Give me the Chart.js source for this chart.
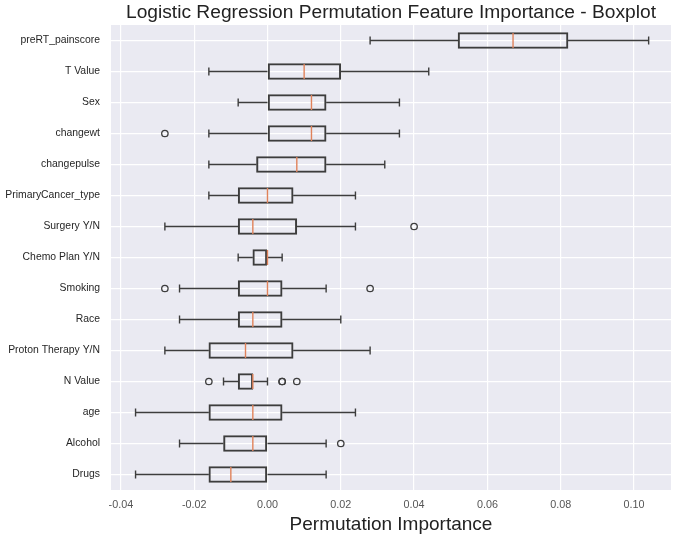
<!DOCTYPE html>
<html>
<head>
<meta charset="utf-8">
<script src="https://cdn.jsdelivr.net/npm/chart.js@4.4.1/dist/chart.umd.min.js"></script>
<style>
  html, body { margin: 0; padding: 0; background: #ffffff; }
  canvas { display: block; }
</style>
</head>
<body>
<canvas id="c" width="677" height="537"></canvas>
<script>
// ---- data ----
const categories = ['preRT_painscore','T Value','Sex','changewt','changepulse','PrimaryCancer_type','Surgery Y/N','Chemo Plan Y/N','Smoking','Race','Proton Therapy Y/N','N Value','age','Alcohol','Drugs'];
const whiskerLow  = [0.028, -0.016, -0.008, -0.016, -0.016, -0.016, -0.028, -0.008, -0.024, -0.024, -0.028, -0.012, -0.036, -0.024, -0.036];
const q1          = [0.052,  0.000,  0.000,  0.000, -0.003, -0.008, -0.008, -0.004, -0.008, -0.008, -0.016, -0.008, -0.016, -0.012, -0.016];
const medians     = [0.067,  0.010,  0.012,  0.012,  0.008,  0.000, -0.004,  0.000,  0.000, -0.004, -0.006, -0.004, -0.004, -0.004, -0.010];
const q3          = [0.082,  0.020,  0.016,  0.016,  0.016,  0.007,  0.008,  0.000,  0.004,  0.004,  0.007, -0.004,  0.004,  0.000,  0.000];
const whiskerHigh = [0.104,  0.044,  0.036,  0.036,  0.032,  0.024,  0.024,  0.004,  0.016,  0.020,  0.028,  0.000,  0.024,  0.016,  0.016];
const outlierCategory = ['changewt','Surgery Y/N','Smoking','Smoking','N Value','N Value','N Value','N Value','Alcohol'];
const outlierValue    = [-0.028,    0.040,        -0.028,    0.028,    -0.016,   0.004,    0.004,    0.008,    0.020];
const xTicks = [-0.04, -0.02, 0.00, 0.02, 0.04, 0.06, 0.08, 0.10];
const xTickLabels = ['-0.04', '-0.02', '0.00', '0.02', '0.04', '0.06', '0.08', '0.10'];
const titleText = 'Logistic Regression Permutation Feature Importance - Boxplot';
const xTitleText = 'Permutation Importance';

const FONT = "'Liberation Sans', Arial, sans-serif";
const BOX_COLOR = '#3d3d3d';
const MEDIAN_COLOR = '#e0825a';

const bgPlugin = {
  id: 'bg',
  beforeDraw(chart) {
    const a = chart.chartArea, ctx = chart.ctx;
    ctx.save();
    ctx.fillStyle = '#eaeaf2';
    ctx.fillRect(a.left, a.top, a.right - a.left, a.bottom - a.top);
    ctx.restore();
  }
};

const boxPlugin = {
  id: 'boxparts',
  afterDatasetsDraw(chart) {
    const ctx = chart.ctx, xs = chart.scales.x, ys = chart.scales.y;
    ctx.save();
    ctx.lineWidth = 1.4;
    ctx.strokeStyle = BOX_COLOR;
    const cap = 4;
    categories.forEach((c, i) => {
      const y = ys.getPixelForValue(i);
      const xl = xs.getPixelForValue(whiskerLow[i]);
      const x1 = xs.getPixelForValue(q1[i]);
      const x3 = xs.getPixelForValue(q3[i]);
      const xh = xs.getPixelForValue(whiskerHigh[i]);
      ctx.beginPath();
      ctx.moveTo(xl, y); ctx.lineTo(x1, y);
      ctx.moveTo(x3, y); ctx.lineTo(xh, y);
      ctx.moveTo(xl, y - cap); ctx.lineTo(xl, y + cap);
      ctx.moveTo(xh, y - cap); ctx.lineTo(xh, y + cap);
      ctx.stroke();
    });
    ctx.strokeStyle = MEDIAN_COLOR;
    ctx.lineWidth = 1.4;
    categories.forEach((c, i) => {
      const y = ys.getPixelForValue(i);
      const xm = xs.getPixelForValue(medians[i]);
      ctx.beginPath();
      ctx.moveTo(xm, y - 7.5); ctx.lineTo(xm, y + 7.5);
      ctx.stroke();
    });
    ctx.strokeStyle = BOX_COLOR;
    ctx.lineWidth = 1.3;
    outlierValue.forEach((v, k) => {
      const y = ys.getPixelForValue(categories.indexOf(outlierCategory[k]));
      const x = xs.getPixelForValue(v);
      ctx.beginPath();
      ctx.arc(x, y, 3.2, 0, Math.PI * 2);
      ctx.stroke();
    });
    ctx.restore();
  }
};

new Chart(document.getElementById('c'), {
  type: 'bar',
  data: {
    labels: categories,
    datasets: [{
      label: 'IQR',
      data: categories.map((c, i) => [q1[i], q3[i]]),
      backgroundColor: 'rgba(0,0,0,0)',
      borderColor: BOX_COLOR,
      borderWidth: 1.4,
      borderSkipped: false,
      barThickness: 16,
      xAxisID: 'x',
      yAxisID: 'y'
    }]
  },
  options: {
    indexAxis: 'y',
    responsive: false,
    animation: false,
    devicePixelRatio: 1,
    layout: { padding: { left: 0, right: 6, top: 0, bottom: 0 } },
    plugins: {
      legend: { display: false },
      tooltip: { enabled: false },
      title: { display: false }
    },
    scales: {
      x: {
        type: 'linear',
        position: 'bottom',
        min: -0.0427,
        max: 0.1101,
        afterBuildTicks: s => { s.ticks = xTicks.map(v => ({ value: v })); },
        afterFit: s => { s.height = 47; },
        ticks: {
          includeBounds: false,
          padding: 9,
          color: '#555555',
          font: { family: FONT, size: 10.8 },
          callback: (v) => { const k = xTicks.findIndex(t => Math.abs(t - v) < 1e-9); return k >= 0 ? xTickLabels[k] : ''; }
        },
        grid: { color: '#ffffff', lineWidth: 1.2, drawTicks: false },
        border: { display: false },
        title: {
          display: true,
          text: xTitleText,
          color: '#222222',
          font: { family: FONT, size: 19 },
          padding: { top: 0, bottom: 1 }
        }
      },
      x2: {
        type: 'linear',
        position: 'top',
        min: -0.0427,
        max: 0.1101,
        afterFit: s => { s.height = 25; },
        ticks: { display: false },
        grid: { display: false, drawTicks: false },
        border: { display: false },
        title: {
          display: true,
          text: titleText,
          color: '#222222',
          font: { family: FONT, size: 19.2 },
          padding: { top: 1, bottom: 0 }
        }
      },
      y: {
        type: 'category',
        offset: true,
        afterFit: s => { s.width = 111; },
        ticks: {
          padding: 11,
          color: '#262626',
          font: { family: FONT, size: 10.4 }
        },
        grid: { color: '#ffffff', lineWidth: 1.2, offset: false, drawTicks: false },
        border: { display: false }
      }
    }
  },
  plugins: [bgPlugin, boxPlugin]
});
</script>
</body>
</html>
